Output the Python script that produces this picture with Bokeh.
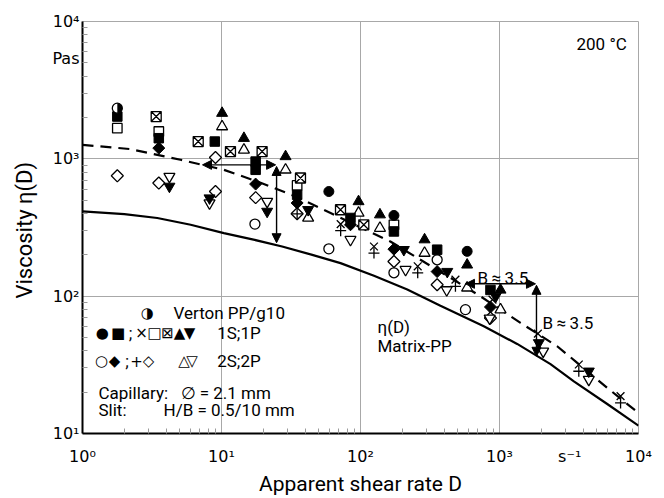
import numpy as np
from bokeh.plotting import figure
from bokeh.models import FixedTicker, Label, Arrow, NormalHead
from bokeh.embed import file_html
from bokeh.resources import INLINE

FONT = "Roboto"
SYM_FONT = "DejaVu Sans"

# ---------------- data ----------------
# Matrix-PP viscosity curve eta(D)
matrix_D = [1, 2, 3.45, 6, 10.4, 17, 27.3, 45, 71.8, 125, 217, 376, 771, 1340, 2328, 3428, 5957, 10000]
matrix_eta = [414, 396, 371, 331, 288, 258, 230, 200, 174, 141, 112, 85, 60.3, 44.9, 32, 24, 16.4, 11.4]
# composite (dashed) curve
comp_D = [1, 2.22, 5.07, 10.4, 18.1, 34.1, 60.9, 100, 164, 270, 450, 730, 1416, 2600, 3626, 5957, 10000]
comp_eta = [1265, 1177, 984, 832, 684, 532, 403, 316, 250, 184, 135, 99.7, 63.9, 43.2, 32.7, 21.5, 14.1]

# measured points, by symbol
verton_D = [1.78]
verton_eta = [2338]
fcircle_D = [59.2, 174, 585]
fcircle_eta = [578, 387, 212]
ocircle_D = [17.4, 59.2, 174, 356, 569]
ocircle_eta = [335, 221, 148, 184, 79.8]
fsquare_D = [1.78, 3.54, 8.95, 17.6, 17.6, 35, 84.7, 174, 356, 861]
fsquare_eta = [2032, 1413, 1336, 955, 832, 547, 371, 296, 218, 111]
osquare_D = [1.78, 3.54, 35, 174]
osquare_eta = [1672, 1581, 640, 331]
xsquare_D = [3.39, 6.8, 11.6, 19.6, 37, 71.8, 105.6]
xsquare_eta = [2032, 1336, 1130, 1130, 725, 426, 331]
xmark_D = [72, 125, 258, 482, 890, 1888, 3720, 7430]
xmark_eta = [335, 230, 165, 132, 94.4, 53.4, 31.8, 18.7]
plus_D = [35, 72, 125, 258, 482, 3720, 7430]
plus_eta = [398, 300, 206, 148, 118, 28.4, 16.7]
ftriup_D = [10.1, 14.5, 28.9, 96.8, 138, 289, 585, 1017]
ftriup_eta = [2150, 1413, 1040, 489, 392, 258, 169, 111]
otriup_D = [10.1, 14.5, 28.9, 42, 96.8, 138, 289, 585, 1017]
otriup_eta = [1718, 1162, 832, 371, 403, 313, 206, 115, 79.8]
ftridn_D = [4.22, 8.2, 21.3, 42, 205, 421, 940, 1918, 4390]
ftridn_eta = [630, 518, 414, 426, 218, 151, 99.7, 45.7, 28.4]
otridn_D = [4.22, 8.2, 21.3, 84.7, 211, 417, 850, 2062, 4390]
otridn_eta = [743, 476, 489, 258, 156, 111, 69, 39.7, 24.7]
fdiam_D = [3.54, 17.6, 35, 84.7, 174, 356, 861]
fdiam_eta = [1197, 655, 477, 331, 220, 151, 83.4]
odiam_D = [1.78, 3.54, 9.05, 9.05, 17.6, 35, 174, 356, 861]
odiam_eta = [752, 666, 1022, 578, 522, 398, 179, 121, 69.3]

# shift arrows (B ~ 3.5)
arrow_x0 = [7.3, 24.9, 569, 1845]
arrow_y0 = [904, 880, 123, 120]
arrow_x1 = [24.5, 24.9, 1815, 1845]
arrow_y1 = [904, 245, 123, 36.5]

x_ticks = [1, 10, 100, 1000, 3200, 10000]
x_tick_labels = ["10\u2070", "10\u00b9", "10\u00b2", "10\u00b3", "s\u207b\u00b9", "10\u2074"]
y_ticks = [10, 100, 1000, 5400, 10000]
y_tick_labels = ["10\u00b9", "10\u00b2", "10\u00b3", "Pas", "10\u2074"]

# ---------------- figure ----------------
X0, X1, Y0, Y1 = 1, 1e4, 10, 1e4
p = figure(width=664, height=498, x_axis_type="log", y_axis_type="log",
           x_range=(X0, X1), y_range=(Y0, Y1),
           output_backend="svg", toolbar_location=None,
           min_border_left=82, min_border_right=26, min_border_top=21, min_border_bottom=65)
p.background_fill_color = "white"
p.border_fill_color = "white"
p.outline_line_color = "#a8a8a8"
p.outline_line_width = 1

# frame geometry (used only to place annotations by pixel position)
FL, FW, FT, FH = 82, 556, 21.5, 412
def D_at(px):
    return 10 ** (np.log10(X0) + (px - FL) / FW * (np.log10(X1) - np.log10(X0)))
def eta_at(py):
    return 10 ** (np.log10(Y1) - (py - FT) / FH * (np.log10(Y1) - np.log10(Y0)))

minor_x = [m * 10 ** e for e in range(0, 4) for m in range(2, 10)]
minor_y = [m * 10 ** e for e in range(1, 4) for m in range(2, 10)]

p.xaxis.ticker = FixedTicker(ticks=x_ticks, minor_ticks=minor_x)
p.yaxis.ticker = FixedTicker(ticks=y_ticks, minor_ticks=minor_y)
p.xaxis.major_label_overrides = dict(zip(x_ticks, x_tick_labels))
p.yaxis.major_label_overrides = dict(zip(y_ticks, y_tick_labels))
for ax in (p.xaxis, p.yaxis):
    ax.major_tick_in = 0
    ax.major_tick_out = 0
    ax.minor_tick_in = 5
    ax.minor_tick_out = 0
    ax.minor_tick_line_color = "#9a9a9a"
    ax.minor_tick_line_width = 1
    ax.axis_line_width = 2
    ax.axis_line_color = "black"
    ax.major_label_text_font = SYM_FONT
    ax.major_label_text_font_size = "16px"
    ax.major_label_text_color = "black"
    ax.axis_label_text_font = FONT
    ax.axis_label_text_font_style = "normal"
    ax.axis_label_text_font_size = "21px"
    ax.axis_label_text_color = "black"
p.xaxis.major_label_standoff = 13
p.yaxis.major_label_standoff = 3
p.xaxis.axis_label = "Apparent shear rate D"
p.yaxis.axis_label = "Viscosity  \u03b7(D)"
p.yaxis.axis_label_text_font_size = "22px"
p.xaxis.axis_label_standoff = 3
p.yaxis.axis_label_standoff = 12

p.xgrid.ticker = FixedTicker(ticks=[10, 100, 1000])
p.ygrid.ticker = FixedTicker(ticks=[100, 1000])
p.xgrid.grid_line_color = "#a8a8a8"
p.ygrid.grid_line_color = "#a8a8a8"

# curves
p.line(matrix_D, matrix_eta, line_color="black", line_width=2.2)
p.line(comp_D, comp_eta, line_color="black", line_width=2.2, line_dash="11 7")

# arrows
for xs, ys, xe, ye in zip(arrow_x0, arrow_y0, arrow_x1, arrow_y1):
    p.add_layout(Arrow(start=NormalHead(size=9, fill_color="black", line_color="black", line_width=1),
                       end=NormalHead(size=9, fill_color="black", line_color="black", line_width=1),
                       x_start=xs, y_start=ys, x_end=xe, y_end=ye,
                       line_color="black", line_width=1.4))

# markers
LW = 1.3
def filled(x, y, marker, size, angle=0.0):
    p.scatter(x, y, marker=marker, size=size, angle=angle,
              fill_color="black", line_color="black", line_width=1)

def hollow(x, y, marker, size, angle=0.0):
    p.scatter(x, y, marker=marker, size=size, angle=angle,
              fill_color="white", line_color="black", line_width=LW)

hollow(ocircle_D, ocircle_eta, "circle", 10)
hollow(osquare_D, osquare_eta, "square", 9.5)
hollow(xsquare_D, xsquare_eta, "square_x", 10)
hollow(odiam_D, odiam_eta, "square", 8.5, np.pi / 4)
hollow(otriup_D, otriup_eta, "triangle", 11)
hollow(otridn_D, otridn_eta, "inverted_triangle", 11)
p.scatter(xmark_D, xmark_eta, marker="x", size=11, line_color="black", line_width=LW)
p.scatter(plus_D, plus_eta, marker="cross", size=11, line_color="black", line_width=LW)
filled(fcircle_D, fcircle_eta, "circle", 10)
filled(fsquare_D, fsquare_eta, "square", 9.5)
filled(fdiam_D, fdiam_eta, "square", 8.5, np.pi / 4)
filled(ftriup_D, ftriup_eta, "triangle", 11)
filled(ftridn_D, ftridn_eta, "inverted_triangle", 11)
# half-filled circle (Verton)
p.scatter(verton_D, verton_eta, marker="circle", size=10, fill_color="white",
          line_color="black", line_width=LW)
p.wedge(verton_D, verton_eta, radius=5, radius_units="screen",
        start_angle=-np.pi / 2, end_angle=np.pi / 2, fill_color="black", line_color=None)

# ---------------- texts ----------------
def label(x, y, text, size="17px", font=FONT, align="left", baseline="middle"):
    p.add_layout(Label(x=x, y=y, text=text, text_font=font, text_font_size=size,
                       text_align=align, text_baseline=baseline, text_color="black"))

label(D_at(576), eta_at(44), "200 \u00b0C")
label(D_at(377), eta_at(327), "\u03b7(D)")
label(D_at(377), eta_at(346), "Matrix-PP")
label(D_at(477), eta_at(278), "B\u2009\u2248\u20093.5", baseline="alphabetic")
label(D_at(542), eta_at(323), "B\u2009\u2248\u20093.5", baseline="alphabetic")

# legend block
label(D_at(146.7), eta_at(313), "\u25d1", size="15px", font=SYM_FONT, align="center")
label(D_at(173), eta_at(313), "Verton  PP/g10")
row2_sym = ["\u25cf", "\u25a0", ";", "\u00d7", "\u25a1", "\u22a0", "\u25b2", "\u25bc"]
row2_px = [101.7, 117.5, 130, 141, 154, 167, 179, 189]
for s, xp in zip(row2_sym, row2_px):
    label(D_at(xp), eta_at(333), s, size="15px" if s != ";" else "17px",
          font=SYM_FONT if s != ";" else FONT, align="center")
label(D_at(216.7), eta_at(333), "1S;1P")
row3_sym = ["\u25cb", "\u25c6", ";", "+", "\u25c7", "\u25b3", "\u25bd"]
row3_px = [101, 114, 126.5, 136, 148, 183.5, 191.5]
for s, xp in zip(row3_sym, row3_px):
    label(D_at(xp), eta_at(361), s, size="15px" if s != ";" else "17px",
          font=SYM_FONT if s != ";" else FONT, align="center")
label(D_at(216.7), eta_at(361), "2S;2P")
label(D_at(98), eta_at(393), "Capillary:")
label(D_at(180), eta_at(393), "\u2205 = 2.1 mm")
label(D_at(98), eta_at(410), "Slit:")
label(D_at(163), eta_at(410), "H/B  =  0.5/10 mm")

open("out.html", "w").write(file_html(p, INLINE))
